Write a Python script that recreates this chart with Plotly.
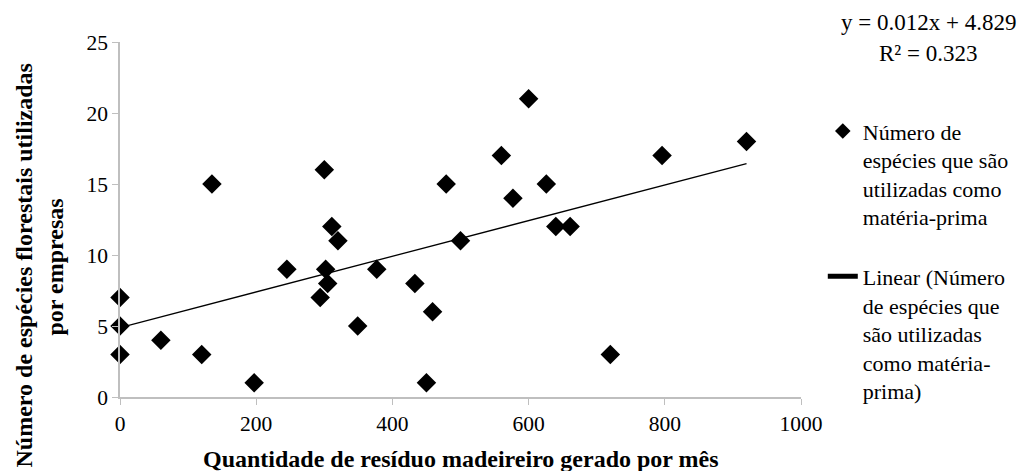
import numpy as np
import plotly.graph_objects as go

residuo = [0, 0, 0, 60, 120, 197, 135, 245, 300, 294, 302, 305, 311, 320, 349, 377,
           433, 450, 459, 479, 500, 560, 577, 600, 626, 640, 661, 720, 796, 920]
especies = [7, 5, 3, 4, 3, 1, 15, 9, 16, 7, 9, 8, 12, 11, 5, 9,
            8, 1, 6, 15, 11, 17, 14, 21, 15, 12, 12, 3, 17, 18]
x_ticks = [0, 200, 400, 600, 800, 1000]
y_ticks = [0, 5, 10, 15, 20, 25]
equation_line1 = "y = 0.012x + 4.829"
equation_line2 = "R² = 0.323"

slope, intercept = np.polyfit(residuo, especies, 1)
trend_x = [min(residuo), max(residuo)]
trend_y = [intercept + slope * v for v in trend_x]

FONT = "Liberation Serif, Times New Roman, DejaVu Serif, serif"

fig = go.Figure()
fig.add_trace(go.Scatter(
    x=residuo, y=especies, mode="markers",
    marker=dict(symbol="diamond", size=15, color="black"),
    name="Número de<br>espécies que são<br>utilizadas como<br>matéria-prima",
    legendgroup="a", cliponaxis=False,
))
fig.add_trace(go.Scatter(
    x=trend_x, y=trend_y, mode="lines",
    line=dict(color="black", width=1.3),
    name="Linear (Número<br>de espécies que<br>são utilizadas<br>como matéria-<br>prima)",
    legendgroup="b",
))

axis_common = dict(
    showline=True, linecolor="#BFBFBF", linewidth=1.5,
    ticks="outside", ticklen=6, tickcolor="#BFBFBF", tickwidth=1.3,
    showgrid=False, zeroline=False,
    tickfont=dict(family=FONT, size=21.5, color="black"),
)

fig.update_layout(
    width=1020, height=463,
    margin=dict(l=112, r=227, t=34, b=74),
    paper_bgcolor="white", plot_bgcolor="white",
    font=dict(family=FONT, color="black"),
    xaxis=dict(range=[0, 1000], tickvals=x_ticks, **axis_common),
    yaxis=dict(range=[0, 25], tickvals=y_ticks, **axis_common),
    showlegend=True,
    legend=dict(
        x=1.032, xanchor="left", y=0.808, yanchor="top",
        valign="top", itemsizing="constant", tracegroupgap=28,
        font=dict(family=FONT, size=22, color="black"),
        bgcolor="rgba(0,0,0,0)",
    ),
    annotations=[
        dict(text="<b>Quantidade de resíduo madeireiro gerado por mês</b>",
             xref="paper", yref="paper", x=0.5, y=0, yshift=-62,
             xanchor="center", yanchor="middle", showarrow=False,
             font=dict(family=FONT, size=24, color="black")),
        dict(text="<b>Número de espécies florestais utilizadas</b>",
             xref="paper", yref="paper", x=0, xshift=-97, y=0.5, yshift=-46,
             xanchor="center", yanchor="middle", textangle=-90, showarrow=False,
             font=dict(family=FONT, size=24, color="black")),
        dict(text="<b>por empresas</b>",
             xref="paper", yref="paper", x=0, xshift=-66, y=0.5, yshift=-48,
             xanchor="center", yanchor="middle", textangle=-90, showarrow=False,
             font=dict(family=FONT, size=24, color="black")),
        dict(text=equation_line1,
             xref="paper", yref="paper", x=1, xshift=127, y=1, yshift=20,
             xanchor="center", yanchor="middle", showarrow=False,
             font=dict(family=FONT, size=23, color="black")),
        dict(text=equation_line2,
             xref="paper", yref="paper", x=1, xshift=127, y=1, yshift=-11,
             xanchor="center", yanchor="middle", showarrow=False,
             font=dict(family=FONT, size=23, color="black")),
    ],
)

fig.write_html("out.html")
